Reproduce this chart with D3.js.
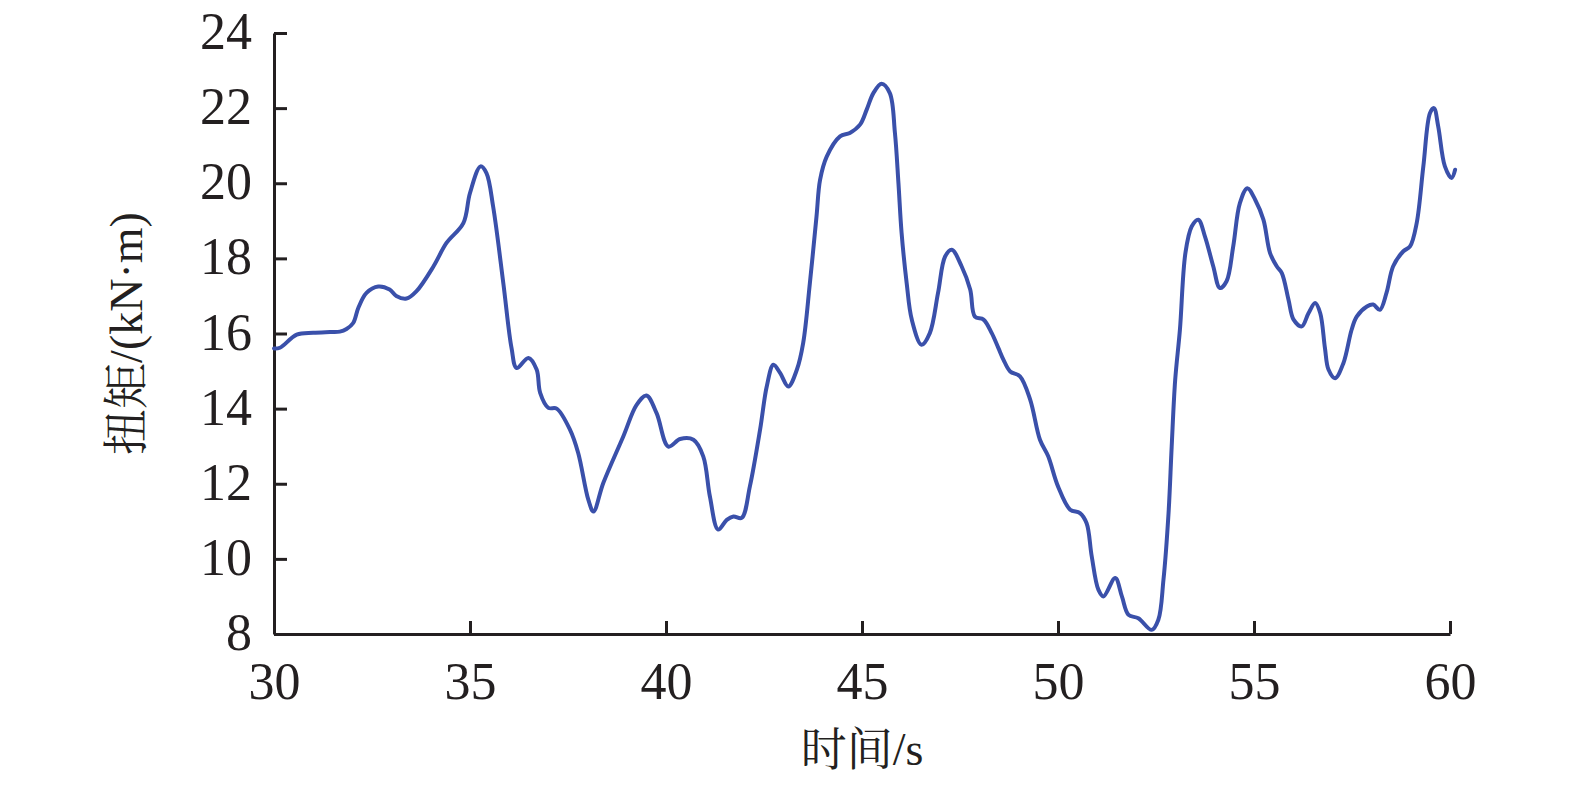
<!DOCTYPE html>
<html>
<head>
<meta charset="utf-8">
<script src="https://cdn.jsdelivr.net/npm/d3@7"></script>
<style>
  html, body { margin: 0; padding: 0; background: #fff; }
  svg { display: block; }
</style>
</head>
<body>
<script>
const time = [30.0,30.15,30.58,31.0,31.43,31.68,31.85,32.02,32.15,32.36,32.66,32.95,33.12,33.38,33.63,34.07,34.4,34.83,35.0,35.27,35.42,35.59,35.85,36.06,36.19,36.49,36.7,36.79,37.0,37.21,37.55,37.76,38.02,38.15,38.4,38.91,39.25,39.5,39.76,40.06,40.36,40.7,40.95,41.12,41.33,41.55,41.72,41.93,42.14,42.4,42.57,42.74,42.91,43.12,43.34,43.5,43.67,43.84,43.93,44.1,44.44,44.69,44.95,45.12,45.29,45.5,45.71,45.84,45.93,46.01,46.14,46.27,46.52,46.73,46.94,47.12,47.29,47.54,47.76,47.88,48.1,48.31,48.48,48.61,48.78,49.03,49.29,49.54,49.75,50.0,50.31,50.56,50.73,50.86,51.03,51.16,51.46,51.63,51.8,52.05,52.39,52.56,52.69,52.82,52.9,52.99,53.11,53.25,53.41,53.58,53.75,53.96,54.13,54.3,54.47,54.64,54.83,55.03,55.24,55.41,55.58,55.71,55.88,56.01,56.22,56.39,56.56,56.69,56.81,56.9,57.07,57.28,57.49,57.62,57.88,58.04,58.21,58.38,58.55,58.81,58.98,59.15,59.32,59.49,59.59,59.7,59.87,60.04,60.13];
const torque = [15.6,15.62,15.97,16.02,16.04,16.05,16.12,16.28,16.68,17.08,17.25,17.17,17.0,16.93,17.12,17.79,18.41,18.94,19.74,20.45,20.27,19.38,17.34,15.61,15.08,15.35,15.04,14.42,14.02,14.0,13.44,12.82,11.57,11.26,12.02,13.26,14.1,14.35,13.88,12.99,13.19,13.17,12.73,11.66,10.78,11.04,11.13,11.09,11.93,13.44,14.59,15.17,14.95,14.59,15.04,15.75,17.34,19.12,20.09,20.71,21.25,21.34,21.56,21.96,22.4,22.65,22.4,21.34,20.0,18.68,17.34,16.37,15.7,16.01,17.08,18.05,18.23,17.79,17.17,16.45,16.37,16.01,15.61,15.3,14.99,14.86,14.24,13.17,12.73,11.93,11.31,11.22,10.95,10.07,9.18,9.0,9.49,9.0,8.51,8.42,8.11,8.38,9.44,11.22,12.99,14.77,16.1,18.14,18.85,19.03,18.58,17.79,17.21,17.39,18.32,19.47,19.87,19.56,19.03,18.14,17.79,17.61,16.9,16.37,16.19,16.54,16.81,16.54,15.61,15.04,14.81,15.21,16.1,16.45,16.72,16.77,16.63,17.08,17.79,18.19,18.32,18.94,20.45,21.87,22.0,21.51,20.45,20.14,20.36];
const xTicks = [30,35,40,45,50,55,60];
const yTicks = [8,10,12,14,16,18,20,22,24];
const xTitle = "时间/s";
const yTitle = "扭矩/(kN·m)";

const W = 1575, H = 787;
const pLeft = 274, pRight = 1450, pTop = 33, pBottom = 634;
const font = "'Liberation Serif','Times New Roman','Noto Serif CJK SC','Noto Sans CJK SC',serif";
const ink = "#231f20";

const svg = d3.select("body").append("svg").attr("width", W).attr("height", H);

const x = d3.scaleLinear().domain([30, 60]).range([pLeft, pRight]);
const y = d3.scaleLinear().domain([8, 24]).range([pBottom, pTop]);

// X axis
const gx = svg.append("g").attr("transform", `translate(0,${pBottom})`)
  .call(d3.axisBottom(x).tickValues(xTicks).tickSize(-13).tickPadding(0).tickSizeOuter(0));
gx.select(".domain").attr("stroke", ink).attr("stroke-width", 3);
gx.selectAll(".tick line").attr("stroke", ink).attr("stroke-width", 3);
gx.selectAll(".tick text").attr("font-family", font).attr("font-size", 52).attr("fill", ink)
  .attr("y", 65).attr("dy", 0);

// Y axis
const gy = svg.append("g").attr("transform", `translate(${pLeft},0)`)
  .call(d3.axisLeft(y).tickValues(yTicks).tickSize(-13).tickPadding(0).tickSizeOuter(0));
gy.select(".domain").attr("stroke", ink).attr("stroke-width", 3);
gy.selectAll(".tick line").attr("stroke", ink).attr("stroke-width", 3);
gy.selectAll(".tick text").attr("font-family", font).attr("font-size", 52).attr("fill", ink)
  .attr("x", -22).attr("dy", "0.3em");

// Line
const line = d3.line().x((d, i) => x(time[i])).y(d => y(d)).curve(d3.curveCatmullRom.alpha(0.5));
svg.append("path").datum(torque)
  .attr("d", line)
  .attr("fill", "none")
  .attr("stroke", "#3a50aa")
  .attr("stroke-width", 4)
  .attr("stroke-linejoin", "round")
  .attr("stroke-linecap", "round");

// Titles
svg.append("text").attr("x", (pLeft + pRight) / 2).attr("y", 765)
  .attr("text-anchor", "middle").attr("font-family", font).attr("font-size", 46).attr("fill", ink)
  .text(xTitle);
svg.append("text").attr("transform", `translate(142,${(pTop + pBottom) / 2}) rotate(-90)`)
  .attr("text-anchor", "middle").attr("font-family", font).attr("font-size", 46).attr("fill", ink)
  .text(yTitle);
</script>
</body>
</html>
